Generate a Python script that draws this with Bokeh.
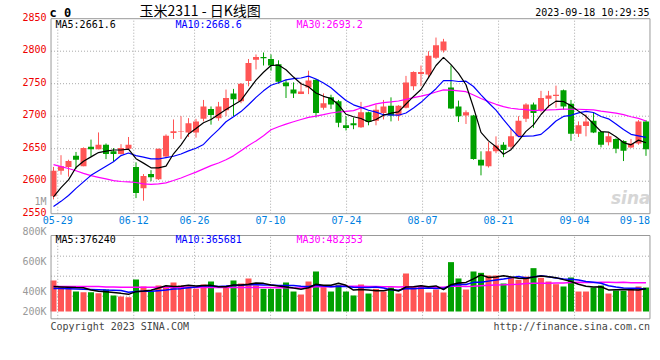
from bokeh.plotting import figure
from bokeh.models import ColumnDataSource, Range1d, Label
from bokeh.core.properties import value
from bokeh.embed import file_html
from bokeh.resources import INLINE

# ---------------- data ----------------
dates = ["05-26", "05-29", "05-30", "05-31", "06-01", "06-02", "06-05", "06-06", "06-07", "06-08",
         "06-09", "06-12", "06-13", "06-14", "06-15", "06-16", "06-19", "06-20", "06-21", "06-26",
         "06-27", "06-28", "06-29", "06-30", "07-03", "07-04", "07-05", "07-06", "07-07", "07-10",
         "07-11", "07-12", "07-13", "07-14", "07-17", "07-18", "07-19", "07-20", "07-21", "07-24",
         "07-25", "07-26", "07-27", "07-28", "07-31", "08-01", "08-02", "08-03", "08-04", "08-07",
         "08-08", "08-09", "08-10", "08-11", "08-14", "08-15", "08-16", "08-17", "08-18", "08-21",
         "08-22", "08-23", "08-24", "08-25", "08-28", "08-29", "08-30", "08-31", "09-01", "09-04",
         "09-05", "09-06", "09-07", "09-08", "09-11", "09-12", "09-13", "09-14", "09-15", "09-18"]

opens = [2577, 2616, 2622, 2639, 2623, 2653, 2649, 2656, 2646, 2642,
         2650, 2622, 2589, 2611, 2603, 2638, 2674, 2676, 2675, 2675,
         2696, 2711, 2697, 2709, 2735, 2723, 2754, 2787, 2791, 2788,
         2780, 2752, 2741, 2734, 2744, 2756, 2713, 2729, 2723, 2686,
         2689, 2683, 2706, 2693, 2705, 2716, 2701, 2713, 2746, 2765,
         2764, 2790, 2801, 2744, 2715, 2701, 2701, 2633, 2623, 2646,
         2656, 2653, 2669, 2696, 2718, 2709, 2727, 2731, 2740, 2719,
         2673, 2685, 2693, 2676, 2660, 2665, 2662, 2652, 2658, 2692]
highs = [2622, 2640, 2633, 2645, 2652, 2664, 2675, 2658, 2651, 2657,
         2668, 2629, 2611, 2617, 2650, 2672, 2695, 2700, 2697, 2696,
         2725, 2715, 2722, 2741, 2742, 2751, 2788, 2795, 2798, 2795,
         2786, 2756, 2752, 2752, 2770, 2757, 2735, 2733, 2725, 2700,
         2698, 2722, 2707, 2718, 2725, 2729, 2717, 2762, 2769, 2778,
         2800, 2821, 2819, 2778, 2724, 2709, 2702, 2646, 2660, 2669,
         2660, 2681, 2700, 2720, 2721, 2739, 2739, 2747, 2741, 2725,
         2692, 2703, 2705, 2677, 2675, 2666, 2663, 2665, 2694, 2694]
lows = [2572, 2610, 2607, 2619, 2623, 2638, 2649, 2634, 2630, 2641,
        2648, 2574, 2570, 2600, 2602, 2636, 2665, 2665, 2668, 2667,
        2692, 2687, 2693, 2700, 2700, 2720, 2746, 2772, 2778, 2770,
        2750, 2728, 2728, 2734, 2734, 2698, 2710, 2711, 2683, 2678,
        2680, 2682, 2686, 2686, 2695, 2692, 2693, 2712, 2740, 2746,
        2760, 2788, 2798, 2711, 2691, 2688, 2633, 2609, 2621, 2643,
        2637, 2650, 2668, 2691, 2682, 2706, 2713, 2713, 2710, 2662,
        2668, 2669, 2674, 2652, 2655, 2643, 2631, 2651, 2656, 2639]
closes = [2616, 2623, 2631, 2633, 2651, 2649, 2656, 2642, 2642, 2651,
          2656, 2582, 2608, 2606, 2650, 2670, 2677, 2677, 2689, 2692,
          2715, 2702, 2715, 2728, 2726, 2750, 2782, 2791, 2789, 2778,
          2753, 2746, 2735, 2738, 2755, 2705, 2720, 2718, 2690, 2682,
          2686, 2706, 2691, 2710, 2715, 2701, 2716, 2752, 2768, 2768,
          2793, 2809, 2815, 2712, 2700, 2706, 2634, 2624, 2646, 2655,
          2648, 2669, 2693, 2718, 2705, 2728, 2732, 2733, 2715, 2673,
          2686, 2692, 2675, 2656, 2669, 2650, 2647, 2658, 2692, 2649]

ma5 = [2576, 2590, 2602, 2621, 2630.8, 2637.4, 2644.0, 2646.2, 2648.0, 2648.0,
       2649.4, 2634.6, 2627.8, 2620.6, 2620.4, 2623.2, 2642.2, 2656.0, 2672.6, 2681.0,
       2690.0, 2695.0, 2702.6, 2710.4, 2717.2, 2724.2, 2740.2, 2755.4, 2767.6, 2778.0,
       2778.6, 2771.4, 2760.2, 2750.0, 2745.4, 2735.8, 2730.6, 2727.2, 2717.6, 2703.0,
       2699.2, 2696.4, 2691.0, 2695.0, 2701.6, 2704.6, 2706.6, 2718.8, 2730.4, 2741.0,
       2759.4, 2778.0, 2790.6, 2779.4, 2765.8, 2748.4, 2713.4, 2675.2, 2662.0, 2653.0,
       2641.4, 2648.4, 2662.2, 2676.6, 2686.6, 2702.6, 2715.2, 2723.2, 2722.6, 2716.2,
       2707.8, 2699.8, 2688.2, 2676.4, 2675.6, 2668.4, 2659.4, 2656.0, 2663.2, 2659.2]
ma10 = [2561, 2569, 2578, 2589, 2599, 2609, 2616, 2623, 2630, 2639.4,
        2643.4, 2639.3, 2637.0, 2634.3, 2634.2, 2636.3, 2638.4, 2641.9, 2646.6, 2650.7,
        2656.6, 2668.6, 2679.3, 2691.5, 2699.1, 2707.1, 2717.6, 2729.0, 2739.0, 2747.6,
        2751.4, 2755.8, 2757.8, 2758.8, 2761.7, 2757.2, 2751.0, 2743.7, 2733.8, 2724.2,
        2717.5, 2713.5, 2709.1, 2706.3, 2702.3, 2701.9, 2701.5, 2704.9, 2712.7, 2721.3,
        2732.0, 2742.3, 2754.7, 2754.9, 2753.4, 2753.9, 2745.7, 2732.9, 2720.7, 2709.4,
        2694.9, 2680.9, 2668.7, 2669.3, 2669.8, 2672.0, 2681.8, 2692.7, 2699.6, 2701.4,
        2705.2, 2707.5, 2705.7, 2699.5, 2695.9, 2688.1, 2679.6, 2672.1, 2669.8, 2667.4]
ma30 = [2625.5, 2622.5, 2619.5, 2616, 2612, 2608.5, 2606, 2603.5, 2601, 2599.5,
        2599, 2598, 2596, 2595, 2596, 2597.5, 2601, 2605, 2609.5, 2614,
        2619, 2624, 2628, 2633, 2639, 2647, 2655, 2662, 2670, 2679.2,
        2683.8, 2687.9, 2691.4, 2694.9, 2698.3, 2700.2, 2702.3, 2704.9, 2706.5, 2707.5,
        2708.5, 2712.6, 2715.4, 2718.9, 2721.0, 2722.1, 2723.4, 2725.9, 2728.5, 2731.0,
        2733.6, 2737.2, 2740.5, 2740.0, 2739.1, 2737.7, 2732.7, 2727.2, 2722.4, 2718.3,
        2714.8, 2712.2, 2710.8, 2710.2, 2708.5, 2709.3, 2709.7, 2710.2, 2711.0, 2710.7,
        2710.7, 2710.2, 2709.7, 2707.9, 2706.4, 2704.7, 2702.4, 2699.2, 2696.7, 2692.7]

# volume in thousands of lots
volume_k = [511, 401, 401, 329, 318, 318, 302, 362, 264, 247,
            236, 527, 412, 335, 428, 412, 478, 428, 412, 373,
            445, 494, 313, 412, 511, 461, 544, 428, 373, 373,
            373, 478, 329, 280, 494, 659, 401, 329, 439, 329,
            264, 445, 296, 373, 329, 395, 296, 626, 401, 406,
            313, 362, 313, 813, 544, 362, 659, 637, 593, 593,
            461, 566, 522, 576, 714, 555, 494, 450, 412, 560,
            329, 329, 395, 428, 296, 346, 340, 384, 412, 395]
vma5_k = [410, 405, 400, 395, 392, 353.4, 333.6, 325.8, 312.8, 298.6,
          282.2, 327.2, 337.2, 351.4, 387.6, 422.8, 413, 416.2, 431.6, 420.6,
          427.2, 430.4, 407.4, 407.4, 435, 438.2, 448.2, 471.2, 463.4, 435.8,
          418.2, 405, 385.2, 366.6, 390.8, 448, 432.6, 432.6, 464.4, 431.4,
          352.4, 361.2, 354.6, 341.4, 341.4, 367.6, 337.8, 403.8, 409.4, 424.8,
          408.4, 421.6, 359, 441.4, 469, 478.8, 538.2, 603, 559, 568.8,
          588.6, 570, 547, 543.6, 567.8, 586.6, 572.2, 557.8, 525, 494.2,
          449, 416, 405, 408.2, 355.4, 358.8, 361, 358.8, 355.6, 375.4]
vma10_k = [380, 378, 375, 372, 368, 363, 358, 353, 349, 345.3,
           317.8, 330.4, 331.5, 332.1, 343.1, 352.5, 370.1, 376.7, 391.5, 404.1,
           425, 421.7, 411.8, 419.5, 427.8, 432.7, 439.3, 439.3, 435.4, 435.4,
           428.2, 426.6, 428.2, 415, 413.3, 433.1, 418.8, 408.9, 415.5, 411.1,
           400.2, 396.9, 393.6, 402.9, 386.4, 360, 349.5, 379.2, 375.4, 383.1,
           388, 379.7, 381.4, 425.4, 446.9, 443.6, 479.9, 481, 500.2, 518.9,
           533.7, 554.1, 575, 551.3, 568.3, 587.6, 571.1, 552.4, 534.3, 531,
           517.8, 494.1, 481.4, 466.6, 424.8, 403.9, 388.5, 381.9, 381.9, 365.4]
vma30_k = [412, 412, 412, 412, 412, 412, 412, 405, 405, 398,
           398, 398, 398, 398, 398, 398, 398, 398, 398, 395,
           395, 395, 395, 395, 395, 395, 395, 395, 395, 394.9,
           390.3, 392.9, 390.5, 388.9, 394.7, 406.1, 409.4, 408.3, 414.1, 416.9,
           417.8, 415.1, 411.2, 412.5, 409.2, 408.6, 402.5, 409.1, 408.8, 409.9,
           405.5, 401.1, 401.1, 414.4, 415.5, 412.2, 416.1, 423, 430.4, 437.7,
           440.6, 443.6, 450, 459.9, 467.2, 463.7, 466.8, 470.9, 470, 477.7,
           479.8, 476, 479.3, 481.1, 480, 478.4, 479.8, 471.8, 472.1, 471.8]

tick_dates = ["05-29", "06-12", "06-26", "07-10", "07-24", "08-07", "08-21", "09-04"]
last_date = "09-18"
price_ticks = [2550, 2600, 2650, 2700, 2750, 2800, 2850]
vol_axis_labels = ["1M", "800K", "600K", "400K", "200K"]

title_text = "玉米2311 - 日K线图"
code_text = "c 0"
stamp_text = "2023-09-18 10:29:35"
price_ma_text = ["MA5:2661.6", "MA10:2668.6", "MA30:2693.2"]
vol_ma_text = ["MA5:376240", "MA10:365681", "MA30:482353"]
copyright_text = "Copyright 2023 SINA.COM"
url_text = "http://finance.sina.com.cn"

# ---------------- layout / styling ----------------
RED = "#ff5555"
GREEN = "#00a000"
GRID = "#a8a8a8"
FRAME = "#999999"
MONO = "DejaVu Sans Mono"
MA_COLORS = ["#000000", "#0000ff", "#ff00ff"]

PANEL_X0, PANEL_X1 = -0.33, 79.53          # panel edges, in candle units
PRICE_LO, PRICE_HI = 2550, 2850            # price panel edges
VOL_LO, VOL_HI = -120231, 1251720          # volume panel edges
vol_grid = [252000, 582000, 911000]
vol_label_pos = [1816641, 1322541, 828441, 334341, 4941]
LABEL_X = -0.93                            # right edge of the left-hand labels
GRID_START, GRID_STEP = 0.57, 7.6 / 7.5    # the source's date grid runs on a slightly wider step

x = list(range(len(dates)))
colors = [RED if c >= o else GREEN for o, c in zip(opens, closes)]
src = ColumnDataSource(dict(
    x=x, high=highs, low=lows,
    top=[max(o, c) for o, c in zip(opens, closes)],
    bottom=[min(o, c) for o, c in zip(opens, closes)],
    color=colors, ma5=ma5, ma10=ma10, ma30=ma30,
    vol=[v * 1000 for v in volume_k],
    vma5=[v * 1000 for v in vma5_k],
    vma10=[v * 1000 for v in vma10_k],
    vma30=[v * 1000 for v in vma30_k],
))
tick_idx = [dates.index(d) for d in tick_dates]
grid_x = [GRID_START + (k - tick_idx[0]) * GRID_STEP for k in tick_idx]

p = figure(width=652, height=345, x_range=Range1d(-7.067, 79.867),
           y_range=Range1d(2347.23, 2878.0),
           output_backend="svg", toolbar_location=None,
           x_axis_location=None, y_axis_location=None,
           min_border=0, outline_line_color=None,
           background_fill_color="white", border_fill_color="white")
p.extra_y_ranges = {"vol": Range1d(-559980, 5122170)}
p.grid.visible = False

# ---- grids ----
p.segment(x0=PANEL_X0, x1=PANEL_X1, y0=price_ticks[1:-1], y1=price_ticks[1:-1],
          line_color=GRID, line_dash="1 2", line_width=1)
p.segment(x0=grid_x, x1=grid_x, y0=PRICE_LO, y1=PRICE_HI,
          line_color=GRID, line_dash="1 2", line_width=1)
p.segment(x0=PANEL_X0, x1=PANEL_X1, y0=vol_grid, y1=vol_grid, y_range_name="vol",
          line_color=GRID, line_dash="1 2", line_width=1)
p.segment(x0=grid_x, x1=grid_x, y0=VOL_LO, y1=VOL_HI, y_range_name="vol",
          line_color=GRID, line_dash="1 2", line_width=1)

# ---- candles ----
p.segment(x0="x", y0="low", x1="x", y1="high", color="color", line_width=1, source=src)
p.vbar(x="x", width=0.8, top="top", bottom="bottom", fill_color="color",
       line_color=None, source=src)
p.line("x", "ma30", color=MA_COLORS[2], line_width=1.2, source=src)
p.line("x", "ma10", color=MA_COLORS[1], line_width=1.2, source=src)
p.line("x", "ma5", color=MA_COLORS[0], line_width=1.2, source=src)

# ---- volume ----
p.vbar(x="x", width=0.8, top="vol", bottom=0, fill_color="color", line_color=None,
       source=src, y_range_name="vol")
p.line("x", "vma30", color=MA_COLORS[2], line_width=1.5, source=src, y_range_name="vol")
p.line("x", "vma10", color=MA_COLORS[1], line_width=1.5, source=src, y_range_name="vol")
p.line("x", "vma5", color=MA_COLORS[0], line_width=1.5, source=src, y_range_name="vol")

# ---- panel frames ----
p.quad(left=PANEL_X0, right=PANEL_X1, bottom=PRICE_LO, top=PRICE_HI,
       fill_color=None, line_color=FRAME, line_width=1)
p.quad(left=PANEL_X0, right=PANEL_X1, bottom=VOL_LO, top=VOL_HI, y_range_name="vol",
       fill_color=None, line_color=FRAME, line_width=1)

# ---- axis labels ----
p.text(x=LABEL_X, y=price_ticks, text=[str(t) for t in price_ticks],
       text_color="#ee0000", text_font=value(MONO), text_font_size=value("10px"),
       text_align=value("right"), text_baseline=value("middle"), y_offset=-2)
p.text(x=grid_x, y=PRICE_LO, text=tick_dates,
       text_color="#0080e0", text_font=value(MONO), text_font_size=value("10px"),
       text_align=value("center"), text_baseline=value("top"), y_offset=2)
p.text(x=PANEL_X1, y=PRICE_LO, text=[last_date],
       text_color="#0080e0", text_font=value(MONO), text_font_size=value("10px"),
       text_align=value("right"), text_baseline=value("top"), y_offset=2)
p.text(x=LABEL_X, y=vol_label_pos, text=vol_axis_labels, y_range_name="vol",
       text_color="#999999", text_font=value(MONO), text_font_size=value("10px"),
       text_align=value("right"), text_baseline=value("middle"))

# ---- headers ----
for xpos, txt, col in zip([0.27, 16.27, 32.4], price_ma_text, MA_COLORS):
    p.add_layout(Label(x=xpos, y=2841.5, text=txt, text_color=col, text_font=MONO,
                       text_font_size="10px", text_baseline="middle"))
for xpos, txt, col in zip([0.27, 16.27, 32.4], vol_ma_text, MA_COLORS):
    p.add_layout(Label(x=xpos, y=1185840, y_range_name="vol", text=txt, text_color=col,
                       text_font=MONO, text_font_size="10px", text_baseline="middle"))

p.add_layout(Label(x=-0.53, y=2858.9, text=code_text, text_color="#000000", text_font=MONO,
                   text_font_size="12px", text_font_style="bold", text_baseline="middle"))
p.add_layout(Label(x=11.47, y=2863.4, text=title_text, text_color="#000000",
                   text_font="Noto Sans CJK SC", text_font_size="14px", text_baseline="middle"))
p.add_layout(Label(x=79.47, y=2860.0, text=stamp_text, text_color="#000000", text_font=MONO,
                   text_font_size="10px", text_align="right", text_baseline="middle"))
p.add_layout(Label(x=79.6, y=2573.5, text="sina", text_color="#d6d6d6", text_font="DejaVu Sans",
                   text_font_size="17px", text_font_style="bold italic", text_align="right",
                   text_baseline="middle"))
p.add_layout(Label(x=-0.4, y=-238815, y_range_name="vol", text=copyright_text,
                   text_color="#444444", text_font=MONO, text_font_size="10px",
                   text_baseline="middle"))
p.add_layout(Label(x=79.53, y=-238815, y_range_name="vol", text=url_text,
                   text_color="#444444", text_font=MONO, text_font_size="10px",
                   text_align="right", text_baseline="middle"))

open("out.html", "w").write(file_html(p, INLINE))
